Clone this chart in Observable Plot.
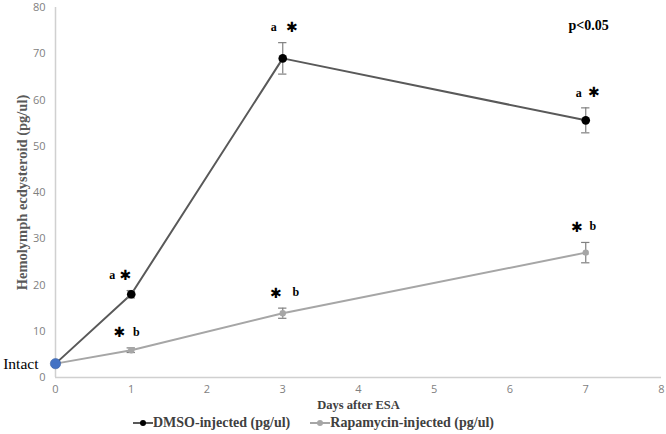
<!DOCTYPE html>
<html>
<head>
<meta charset="utf-8">
<script src="https://cdn.jsdelivr.net/npm/d3@7"></script>
<script src="https://cdn.jsdelivr.net/npm/@observablehq/plot@0.6"></script>
<style>
  body { margin: 0; background: #fff; }
  #legend { width: 666px; height: 22px; display: flex; align-items: center; font-family: "Liberation Serif", serif; font-weight: bold; font-size: 14px; color: #404040; }
  .item { display: flex; align-items: center; }
</style>
</head>
<body>
<div id="chart"></div>
<div id="legend"></div>
<script>
const days = [0, 1, 3, 7];
const dmsoValues = [3, 18, 69, 55.6];
const dmsoErrors = [0, 0.8, 3.4, 2.7];
const rapaValues = [3, 5.9, 13.9, 27];
const rapaErrors = [0, 0.5, 1.1, 2.2];
const dmsoLetters = ["", "a", "a", "a"];
const rapaLetters = ["", "b", "b", "b"];
const starLabels = ["", "✱", "✱", "✱"];
const xTicks = [0, 1, 2, 3, 4, 5, 6, 7, 8];
const yTicks = [0, 10, 20, 30, 40, 50, 60, 70, 80];
const seriesNames = ["DMSO-injected (pg/ul)", "Rapamycin-injected (pg/ul)"];
const intactLabel = "Intact";
const pLabel = "p<0.05";
const xLabel = "Days after ESA";
const yLabel = "Hemolymph ecdysteroid (pg/ul)";

const dmso = days.map((d, i) => ({day: d, v: dmsoValues[i], e: dmsoErrors[i], letter: dmsoLetters[i], star: starLabels[i]}));
const rapa = days.map((d, i) => ({day: d, v: rapaValues[i], e: rapaErrors[i], letter: rapaLetters[i], star: starLabels[i]}));
const dmsoPts = dmso.slice(1), rapaPts = rapa.slice(1);

const dmsoColor = "#595959", rapaColor = "#A6A6A6";
const serif = "Liberation Serif";
const capHalf = 0.055;

// label offsets (pixels) per day: [letter dx, star dx]
const dmsoOff = {1: [-19, -6], 3: [-9, 9], 7: [-7, 8]};
const rapaOff = {1: [5, -12], 3: [13, -7], 7: [7, -9]};

function labelMarks(pts, offs, dyL, dyS) {
  const marks = [];
  for (const p of pts) {
    const [ldx, sdx] = offs[p.day];
    marks.push(Plot.text([p], {x: "day", y: d => d.v + d.e, text: "letter", dx: ldx, dy: dyL, fontFamily: serif, fontWeight: "bold", fontSize: 12, fill: "#000"}));
    marks.push(Plot.text([p], {x: "day", y: d => d.v + d.e, text: "star", dx: sdx, dy: dyS, fontFamily: "DejaVu Sans", fontWeight: "bold", fontSize: 14, fill: "#000"}));
  }
  return marks;
}

const chart = Plot.plot({
  width: 666,
  height: 412,
  marginLeft: 55,
  marginRight: 5,
  marginTop: 7,
  marginBottom: 35,
  x: {domain: [0, 8], label: null},
  y: {domain: [0, 80], label: null},
  style: {fontFamily: "Open Sans", fontSize: "11px", color: "#7F7F7F", background: "#fff"},
  marks: [
    Plot.ruleX([0], {y1: 0, y2: 80, stroke: "#D0D0D0", strokeWidth: 1.5}),
    Plot.ruleY([0], {stroke: "#D0D0D0", strokeWidth: 1.5}),
    Plot.axisX({ticks: xTicks, tickSize: 0, tickPadding: 8, label: null, fill: "#7F7F7F", tickFormat: d3.format("d")}),
    Plot.axisY({ticks: yTicks, tickSize: 0, tickPadding: 10, label: null, fill: "#7F7F7F", tickFormat: d3.format("d")}),
    Plot.text([xLabel], {frameAnchor: "bottom", dy: 31, fontFamily: serif, fontWeight: "bold", fontSize: 12.5, fill: "#404040"}),
    Plot.text([yLabel], {frameAnchor: "left", textAnchor: "middle", rotate: -90, dx: -33, fontFamily: serif, fontWeight: "bold", fontSize: 14.5, fill: "#595959"}),
    // lines
    Plot.line(rapa, {x: "day", y: "v", stroke: rapaColor, strokeWidth: 2}),
    Plot.line(dmso, {x: "day", y: "v", stroke: dmsoColor, strokeWidth: 2}),
    // error bars
    Plot.ruleX(rapaPts, {x: "day", y1: d => d.v - d.e, y2: d => d.v + d.e, stroke: "#808080", strokeWidth: 1.2}),
    Plot.ruleY(rapaPts, {y: d => d.v - d.e, x1: d => d.day - capHalf, x2: d => d.day + capHalf, stroke: "#808080", strokeWidth: 1.2}),
    Plot.ruleY(rapaPts, {y: d => d.v + d.e, x1: d => d.day - capHalf, x2: d => d.day + capHalf, stroke: "#808080", strokeWidth: 1.2}),
    Plot.ruleX(dmsoPts, {x: "day", y1: d => d.v - d.e, y2: d => d.v + d.e, stroke: "#808080", strokeWidth: 1.2}),
    Plot.ruleY(dmsoPts, {y: d => d.v - d.e, x1: d => d.day - capHalf, x2: d => d.day + capHalf, stroke: "#808080", strokeWidth: 1.2}),
    Plot.ruleY(dmsoPts, {y: d => d.v + d.e, x1: d => d.day - capHalf, x2: d => d.day + capHalf, stroke: "#808080", strokeWidth: 1.2}),
    // dots
    Plot.dot(rapaPts, {x: "day", y: "v", r: 3.2, fill: rapaColor}),
    Plot.dot(dmsoPts, {x: "day", y: "v", r: 4.3, fill: "#000"}),
    Plot.dot([dmso[0]], {x: "day", y: "v", r: 5.2, fill: "#4472C4", stroke: "#2F5597", strokeWidth: 0.5}),
    // labels
    ...labelMarks(dmsoPts, dmsoOff, -15, -15),
    ...labelMarks(rapaPts, rapaOff, -16, -15),
    Plot.text([intactLabel], {x: 0, y: dmsoValues[0], dx: -17, textAnchor: "end", fontFamily: serif, fontSize: 15.5, fill: "#000"}),
    Plot.text([pLabel], {frameAnchor: "top-right", dx: -73, dy: 13, textAnchor: "middle", fontFamily: serif, fontWeight: "bold", fontSize: 14, fill: "#000"})
  ]
});
document.getElementById("chart").appendChild(chart);

const legend = document.getElementById("legend");
const swatch = (color, dot) => `<svg width="20" height="10" style="margin-right:0px"><line x1="0" y1="5" x2="20" y2="5" stroke="${color}" stroke-width="2"/><circle cx="10" cy="5" r="3" fill="${dot}"/></svg>`;
legend.innerHTML = `<div style="width:133px"></div>
<div class="item">${swatch(dmsoColor, "#000")}<span>${seriesNames[0]}</span></div>
<div style="width:20px"></div>
<div class="item">${swatch(rapaColor, rapaColor)}<span>${seriesNames[1]}</span></div>`;
</script>
</body>
</html>
